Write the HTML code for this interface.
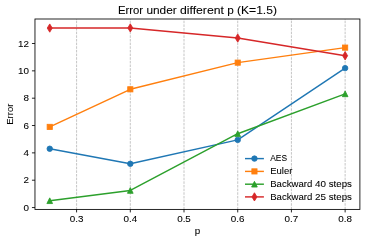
<!DOCTYPE html>
<html><head><meta charset="utf-8"><title>Error under different p</title>
<style>html,body{margin:0;padding:0;background:#fff}svg{display:block;will-change:transform}svg text{font-family:"Liberation Sans",sans-serif}</style></head>
<body>
<svg width="366" height="242" viewBox="0 0 366 242" font-family="Liberation Sans, sans-serif" fill="#000" stroke="#000" stroke-width="0">
<rect width="366" height="242" fill="#fff"/>
<line x1="76.59" x2="76.59" y1="209.40" y2="19.00" stroke="#b4b4b4" stroke-width="0.78" stroke-dasharray="2.55 1.10"/>
<line x1="130.30" x2="130.30" y1="209.40" y2="19.00" stroke="#b4b4b4" stroke-width="0.78" stroke-dasharray="2.55 1.10"/>
<line x1="184.01" x2="184.01" y1="209.40" y2="19.00" stroke="#b4b4b4" stroke-width="0.78" stroke-dasharray="2.55 1.10"/>
<line x1="237.72" x2="237.72" y1="209.40" y2="19.00" stroke="#b4b4b4" stroke-width="0.78" stroke-dasharray="2.55 1.10"/>
<line x1="291.42" x2="291.42" y1="209.40" y2="19.00" stroke="#b4b4b4" stroke-width="0.78" stroke-dasharray="2.55 1.10"/>
<line x1="345.13" x2="345.13" y1="209.40" y2="19.00" stroke="#b4b4b4" stroke-width="0.78" stroke-dasharray="2.55 1.10"/>
<polyline points="49.74,148.77 130.30,163.81 237.72,139.88 345.13,68.12" fill="none" stroke="#1f77b4" stroke-width="1.43" stroke-linejoin="round" stroke-linecap="butt"/>
<circle cx="49.74" cy="148.77" r="2.74" fill="#1f77b4" stroke="#1f77b4" stroke-width="0.86"/>
<circle cx="130.30" cy="163.81" r="2.74" fill="#1f77b4" stroke="#1f77b4" stroke-width="0.86"/>
<circle cx="237.72" cy="139.88" r="2.74" fill="#1f77b4" stroke="#1f77b4" stroke-width="0.86"/>
<circle cx="345.13" cy="68.12" r="2.74" fill="#1f77b4" stroke="#1f77b4" stroke-width="0.86"/>
<polyline points="49.74,126.90 130.30,89.30 237.72,62.65 345.13,47.61" fill="none" stroke="#ff7f0e" stroke-width="1.43" stroke-linejoin="round" stroke-linecap="butt"/>
<rect x="47.15" y="124.31" width="5.17" height="5.17" fill="#ff7f0e" stroke="#ff7f0e" stroke-width="0.86" stroke-linejoin="miter"/>
<rect x="127.72" y="86.72" width="5.17" height="5.17" fill="#ff7f0e" stroke="#ff7f0e" stroke-width="0.86" stroke-linejoin="miter"/>
<rect x="235.13" y="60.06" width="5.17" height="5.17" fill="#ff7f0e" stroke="#ff7f0e" stroke-width="0.86" stroke-linejoin="miter"/>
<rect x="342.55" y="45.03" width="5.17" height="5.17" fill="#ff7f0e" stroke="#ff7f0e" stroke-width="0.86" stroke-linejoin="miter"/>
<polyline points="49.74,200.72 130.30,190.46 237.72,133.73 345.13,93.82" fill="none" stroke="#2ca02c" stroke-width="1.43" stroke-linejoin="round" stroke-linecap="butt"/>
<polygon points="49.74,197.87 46.90,203.56 52.58,203.56" fill="#2ca02c" stroke="#2ca02c" stroke-width="0.86" stroke-linejoin="miter"/>
<polygon points="130.30,187.62 127.46,193.31 133.14,193.31" fill="#2ca02c" stroke="#2ca02c" stroke-width="0.86" stroke-linejoin="miter"/>
<polygon points="237.72,130.89 234.87,136.58 240.56,136.58" fill="#2ca02c" stroke="#2ca02c" stroke-width="0.86" stroke-linejoin="miter"/>
<polygon points="345.13,90.97 342.29,96.66 347.97,96.66" fill="#2ca02c" stroke="#2ca02c" stroke-width="0.86" stroke-linejoin="miter"/>
<polyline points="49.74,28.06 130.30,27.93 237.72,38.04 345.13,55.74" fill="none" stroke="#d62728" stroke-width="1.43" stroke-linejoin="round" stroke-linecap="butt"/>
<polygon points="49.74,23.93 47.26,28.06 49.74,32.19 52.22,28.06" fill="#d62728" stroke="#d62728" stroke-width="0.86" stroke-linejoin="miter"/>
<polygon points="130.30,23.80 127.82,27.93 130.30,32.06 132.78,27.93" fill="#d62728" stroke="#d62728" stroke-width="0.86" stroke-linejoin="miter"/>
<polygon points="237.72,33.91 235.24,38.04 237.72,42.17 240.19,38.04" fill="#d62728" stroke="#d62728" stroke-width="0.86" stroke-linejoin="miter"/>
<polygon points="345.13,51.61 342.65,55.74 345.13,59.88 347.61,55.74" fill="#d62728" stroke="#d62728" stroke-width="0.86" stroke-linejoin="miter"/>
<rect x="34.97" y="19.00" width="324.93" height="190.40" fill="none" stroke="#000" stroke-width="0.85"/>
<line x1="76.59" x2="76.59" y1="209.40" y2="212.42" stroke="#000" stroke-width="0.85"/>
<text x="69.74" y="222.00" font-size="9.13" textLength="13.70" lengthAdjust="spacingAndGlyphs" stroke-width="0.07">0.3</text>
<line x1="130.30" x2="130.30" y1="209.40" y2="212.42" stroke="#000" stroke-width="0.85"/>
<text x="123.45" y="222.00" font-size="9.13" textLength="13.70" lengthAdjust="spacingAndGlyphs" stroke-width="0.07">0.4</text>
<line x1="184.01" x2="184.01" y1="209.40" y2="212.42" stroke="#000" stroke-width="0.85"/>
<text x="177.16" y="222.00" font-size="9.13" textLength="13.70" lengthAdjust="spacingAndGlyphs" stroke-width="0.07">0.5</text>
<line x1="237.72" x2="237.72" y1="209.40" y2="212.42" stroke="#000" stroke-width="0.85"/>
<text x="230.86" y="222.00" font-size="9.13" textLength="13.70" lengthAdjust="spacingAndGlyphs" stroke-width="0.07">0.6</text>
<line x1="291.42" x2="291.42" y1="209.40" y2="212.42" stroke="#000" stroke-width="0.85"/>
<text x="284.57" y="222.00" font-size="9.13" textLength="13.70" lengthAdjust="spacingAndGlyphs" stroke-width="0.07">0.7</text>
<line x1="345.13" x2="345.13" y1="209.40" y2="212.42" stroke="#000" stroke-width="0.85"/>
<text x="338.28" y="222.00" font-size="9.13" textLength="13.70" lengthAdjust="spacingAndGlyphs" stroke-width="0.07">0.8</text>
<line x1="34.97" x2="31.95" y1="207.55" y2="207.55" stroke="#000" stroke-width="0.85"/>
<text x="23.46" y="210.75" font-size="9.13" textLength="5.48" lengthAdjust="spacingAndGlyphs" stroke-width="0.07">0</text>
<line x1="34.97" x2="31.95" y1="180.21" y2="180.21" stroke="#000" stroke-width="0.85"/>
<text x="23.46" y="183.41" font-size="9.13" textLength="5.48" lengthAdjust="spacingAndGlyphs" stroke-width="0.07">2</text>
<line x1="34.97" x2="31.95" y1="152.87" y2="152.87" stroke="#000" stroke-width="0.85"/>
<text x="23.46" y="156.07" font-size="9.13" textLength="5.48" lengthAdjust="spacingAndGlyphs" stroke-width="0.07">4</text>
<line x1="34.97" x2="31.95" y1="125.53" y2="125.53" stroke="#000" stroke-width="0.85"/>
<text x="23.46" y="128.73" font-size="9.13" textLength="5.48" lengthAdjust="spacingAndGlyphs" stroke-width="0.07">6</text>
<line x1="34.97" x2="31.95" y1="98.19" y2="98.19" stroke="#000" stroke-width="0.85"/>
<text x="23.46" y="101.39" font-size="9.13" textLength="5.48" lengthAdjust="spacingAndGlyphs" stroke-width="0.07">8</text>
<line x1="34.97" x2="31.95" y1="70.85" y2="70.85" stroke="#000" stroke-width="0.85"/>
<text x="17.98" y="74.05" font-size="9.13" textLength="10.96" lengthAdjust="spacingAndGlyphs" stroke-width="0.07">10</text>
<line x1="34.97" x2="31.95" y1="43.51" y2="43.51" stroke="#000" stroke-width="0.85"/>
<text x="17.98" y="46.71" font-size="9.13" textLength="10.96" lengthAdjust="spacingAndGlyphs" stroke-width="0.07">12</text>
<text x="194.70" y="233.60" font-size="9.13" textLength="5.47" lengthAdjust="spacingAndGlyphs" stroke-width="0.07">p</text>
<g transform="translate(12.60,114.20) rotate(-90)"><text x="-10.50" y="0.00" font-size="9.13" textLength="21.00" lengthAdjust="spacingAndGlyphs" stroke-width="0.07">Error</text></g>
<text x="117.91" y="14.05" font-size="10.96" textLength="25.20" lengthAdjust="spacingAndGlyphs" stroke-width="0.07">Error</text><text x="146.40" y="14.05" font-size="10.96" textLength="30.28" lengthAdjust="spacingAndGlyphs" stroke-width="0.07">under</text><text x="179.96" y="14.05" font-size="10.96" textLength="43.91" lengthAdjust="spacingAndGlyphs" stroke-width="0.07">different</text><text x="227.16" y="14.05" font-size="10.96" textLength="6.56" lengthAdjust="spacingAndGlyphs" stroke-width="0.07">p</text><text x="237.01" y="14.05" font-size="10.96" textLength="39.95" lengthAdjust="spacingAndGlyphs" stroke-width="0.07">(K=1.5)</text>
<line x1="245.00" x2="263.90" y1="158.60" y2="158.60" stroke="#1f77b4" stroke-width="1.43"/>
<circle cx="254.45" cy="158.60" r="2.74" fill="#1f77b4" stroke="#1f77b4" stroke-width="0.86"/>
<text x="270.20" y="161.40" font-size="9.13" textLength="16.81" lengthAdjust="spacingAndGlyphs" stroke-width="0.07">AES</text>
<line x1="245.00" x2="263.90" y1="171.40" y2="171.40" stroke="#ff7f0e" stroke-width="1.43"/>
<rect x="251.87" y="168.82" width="5.17" height="5.17" fill="#ff7f0e" stroke="#ff7f0e" stroke-width="0.86" stroke-linejoin="miter"/>
<text x="270.20" y="174.30" font-size="9.13" textLength="22.14" lengthAdjust="spacingAndGlyphs" stroke-width="0.07">Euler</text>
<line x1="245.00" x2="263.90" y1="184.20" y2="184.20" stroke="#2ca02c" stroke-width="1.43"/>
<polygon points="254.45,181.36 251.61,187.04 257.29,187.04" fill="#2ca02c" stroke="#2ca02c" stroke-width="0.86" stroke-linejoin="miter"/>
<text x="270.20" y="187.20" font-size="9.13" textLength="42.10" lengthAdjust="spacingAndGlyphs" stroke-width="0.07">Backward</text><text x="315.04" y="187.20" font-size="9.13" textLength="10.96" lengthAdjust="spacingAndGlyphs" stroke-width="0.07">40</text><text x="328.75" y="187.20" font-size="9.13" textLength="23.13" lengthAdjust="spacingAndGlyphs" stroke-width="0.07">steps</text>
<line x1="245.00" x2="263.90" y1="196.90" y2="196.90" stroke="#d62728" stroke-width="1.43"/>
<polygon points="254.45,192.77 251.97,196.90 254.45,201.03 256.93,196.90" fill="#d62728" stroke="#d62728" stroke-width="0.86" stroke-linejoin="miter"/>
<text x="270.20" y="200.10" font-size="9.13" textLength="42.10" lengthAdjust="spacingAndGlyphs" stroke-width="0.07">Backward</text><text x="315.04" y="200.10" font-size="9.13" textLength="10.96" lengthAdjust="spacingAndGlyphs" stroke-width="0.07">25</text><text x="328.75" y="200.10" font-size="9.13" textLength="23.13" lengthAdjust="spacingAndGlyphs" stroke-width="0.07">steps</text>
</svg>
</body></html>
